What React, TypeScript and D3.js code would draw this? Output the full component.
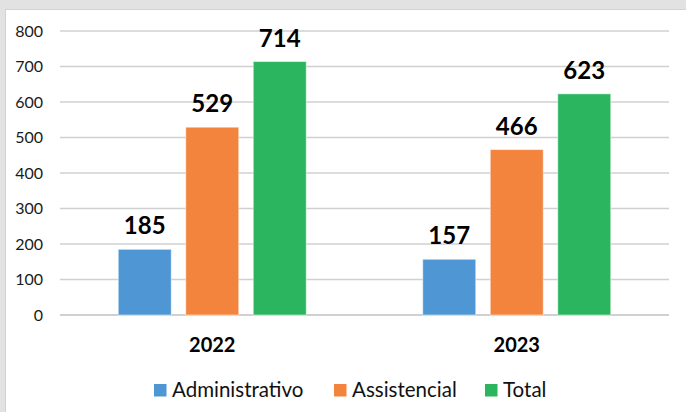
import React from 'react';
import * as d3 from 'd3';

// data
const years = ['2022', '2023'];
const seriesNames = ['Administrativo', 'Assistencial', 'Total'];
const administrativo = [185, 157];
const assistencial = [529, 466];
const total = [714, 623];
const yTicks = [0, 100, 200, 300, 400, 500, 600, 700, 800];
const colors = ['#4E97D4', '#F3843E', '#2BB55F'];

const W = 686;
const H = 412;
const FONT = "Lato, 'Open Sans', sans-serif";

export default function App() {
    const seriesValues = [administrativo, assistencial, total];

    // scales
    const x0 = d3.scaleBand<string>().domain(years).range([60, 669]).padding(0);
    const groupW = 188;
    const x1 = d3.scaleBand<string>().domain(seriesNames).range([0, groupW]).paddingInner(0.215).paddingOuter(0);
    const y = d3.scaleLinear().domain([0, 800]).range([315, 31]);

    const bars = years.flatMap((yr, i) =>
        seriesNames.map((s, j) => ({yr, s, j, v: seriesValues[j][i]}))
    );

    // legend layout
    const legend = [
        {name: 'Administrativo', x: 154},
        {name: 'Assistencial', x: 334},
        {name: 'Total', x: 485},
    ];

    return (
        <svg width={W} height={H} style={{position: 'absolute', left: 0, top: 0}} fontFamily={FONT}>
            <rect x={0} y={0} width={W} height={H} fill="#e2e2e2" />
            <rect x={5.5} y={9.5} width={W} height={H} fill="#ffffff" stroke="#d2d2d2" />
            {/* gridlines + ticks */}
            {yTicks.map((t) => (
                <g key={t}>
                    <line x1={60} x2={669} y1={y(t)} y2={y(t)} stroke="#d0d0d0" strokeWidth={t === 0 ? 2 : 1.5} />
                    <text x={43} y={y(t)} dy="0.36em" textAnchor="end" fontSize={16} fill="#1a1a1a">{t}</text>
                </g>
            ))}
            {/* bars */}
            {bars.map((b) => {
                const bx = x0(b.yr)! + (x0.bandwidth() - groupW) / 2 + x1(b.s)!;
                return (
                    <g key={b.yr + b.s}>
                        <rect x={bx} y={y(b.v)} width={x1.bandwidth()} height={y(0) - y(b.v)}
                              fill={colors[b.j]} stroke="#ffffff" strokeOpacity={0.5} strokeWidth={1} />
                        <text x={bx + x1.bandwidth() / 2} y={y(b.v) - 15} textAnchor="middle"
                              fontSize={24} fontWeight="bold" fill="#000">{b.v}</text>
                    </g>
                );
            })}
            {/* category labels */}
            {years.map((yr) => (
                <text key={yr} x={x0(yr)! + x0.bandwidth() / 2} y={352} textAnchor="middle"
                      fontSize={20} fontWeight="bold" fill="#000">{yr}</text>
            ))}
            {/* legend */}
            {legend.map((l, i) => (
                <g key={l.name}>
                    <rect x={l.x} y={384} width={12.5} height={12.5} fill={colors[i]} />
                    <text x={l.x + 18} y={397} fontSize={20.5} fill="#111">{l.name}</text>
                </g>
            ))}
        </svg>
    );
}
